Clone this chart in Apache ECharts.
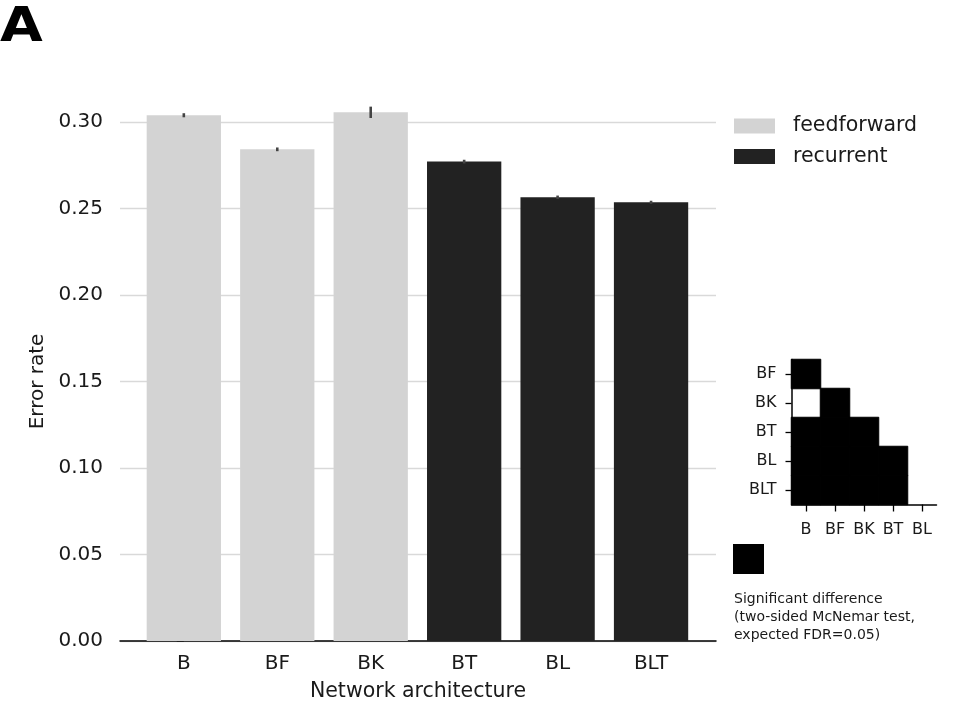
<!DOCTYPE html>
<html>
<head>
<meta charset="utf-8">
<script src="https://cdn.jsdelivr.net/npm/echarts@6/dist/echarts.min.js"></script>
<style>
  html, body { margin: 0; padding: 0; background: #fff; }
  #chart { width: 961px; height: 721px; }
</style>
</head>
<body>
<div id="chart"></div>
<script>
// bar chart data
var architectures = ["B", "BF", "BK", "BT", "BL", "BLT"];
var feedforwardIdx = [0, 1, 2];
var recurrentIdx = [3, 4, 5];
var errorRate = [0.3039, 0.2842, 0.3056, 0.2771, 0.2565, 0.2536];
var errorBar = [0.0006, 0.0005, 0.0027, 0.0005, 0.0004, 0.0003];

// significance matrix (lower triangle, 1 = significant)
var hmCols = ["B", "BF", "BK", "BT", "BL"];
var hmRows = ["BF", "BK", "BT", "BL", "BLT"];
var significant = [
  [1],
  [0, 1],
  [1, 1, 1],
  [1, 1, 1, 1],
  [1, 1, 1, 1, 0]
];

var FONT = "DejaVu Sans";
var TXT = "#1a1a1a";
var chart = echarts.init(document.getElementById("chart"));

var ffData = feedforwardIdx.map(function (i) { return [i, errorRate[i]]; });
var rcData = recurrentIdx.map(function (i) { return [i, errorRate[i]]; });
var errData = architectures.map(function (n, i) { return [i, errorRate[i] - errorBar[i], errorRate[i] + errorBar[i]]; });

var hmData = [];
significant.forEach(function (row, r) {
  row.forEach(function (v, c) {
    if (v) hmData.push([c, r, 1]);
  });
});

var option = {
  animation: false,
  backgroundColor: "#fff",
  textStyle: { fontFamily: FONT },
  legend: {
    orient: "vertical",
    left: 734,
    top: 115.5,
    padding: 0,
    itemWidth: 41,
    itemHeight: 15,
    itemGap: 9.5,
    icon: "rect",
    textStyle: { fontSize: 20.5, lineHeight: 20, color: TXT, fontFamily: FONT, padding: [0, 0, 0, 13] },
    data: ["feedforward", "recurrent"]
  },
  grid: [
    { left: 120, top: 122, width: 596, height: 519 },
    { left: 791.5, top: 359.5, width: 145, height: 145 }
  ],
  xAxis: [
    {
      type: "value",
      gridIndex: 0,
      min: -0.683,
      max: 5.695,
      name: "Network architecture",
      nameLocation: "middle",
      nameGap: 40.5,
      nameTextStyle: { fontSize: 20.5, color: TXT, fontFamily: FONT },
      axisLine: { show: true, lineStyle: { color: "#000", width: 1.5 } },
      axisTick: { show: false },
      splitLine: { show: false },
      axisLabel: {
        customValues: [0, 1, 2, 3, 4, 5],
        formatter: function (v) { return architectures[Math.round(v)]; },
        fontSize: 20,
        color: TXT,
        margin: 13,
        fontFamily: FONT
      }
    },
    {
      type: "category",
      gridIndex: 1,
      data: hmCols,
      axisLine: { show: true, lineStyle: { color: "#000", width: 1.5 } },
      axisTick: { show: true, alignWithLabel: true, length: 7, lineStyle: { color: "#000", width: 1.3 } },
      splitLine: { show: false },
      axisLabel: { fontSize: 16, color: TXT, margin: 17, fontFamily: FONT }
    }
  ],
  yAxis: [
    {
      type: "value",
      gridIndex: 0,
      min: 0,
      max: 0.3,
      interval: 0.05,
      name: "Error rate",
      nameLocation: "middle",
      nameGap: 70,
      nameTextStyle: { fontSize: 20, color: TXT, fontFamily: FONT },
      axisLine: { show: false },
      axisTick: { show: true, length: 7, lineStyle: { color: TXT, width: 1.5 } },
      splitLine: { show: true, lineStyle: { color: "#d9d9d9", width: 1.3 } },
      axisLabel: {
        formatter: function (v) { return v.toFixed(2); },
        fontSize: 20,
        color: TXT,
        margin: 17,
        fontFamily: FONT
      }
    },
    {
      type: "category",
      gridIndex: 1,
      data: hmRows,
      inverse: true,
      axisLine: { show: true, lineStyle: { color: "#000", width: 1.5 } },
      axisTick: { show: true, alignWithLabel: true, length: 6, lineStyle: { color: "#000", width: 1.3 } },
      splitLine: { show: false },
      axisLabel: { fontSize: 16, color: TXT, margin: 15, fontFamily: FONT }
    }
  ],
  series: [
    {
      name: "feedforward",
      type: "bar",
      xAxisIndex: 0,
      yAxisIndex: 0,
      data: ffData,
      barWidth: 74.3,
      barGap: "-100%",
      clip: false,
      itemStyle: { color: "#d3d3d3" }
    },
    {
      name: "recurrent",
      type: "bar",
      xAxisIndex: 0,
      yAxisIndex: 0,
      data: rcData,
      barWidth: 74.3,
      barGap: "-100%",
      clip: false,
      itemStyle: { color: "#222222" }
    },
    {
      name: "err",
      type: "custom",
      xAxisIndex: 0,
      yAxisIndex: 0,
      data: errData,
      clip: false,
      z: 5,
      renderItem: function (params, api) {
        var lo = api.coord([api.value(0), api.value(1)]);
        var hi = api.coord([api.value(0), api.value(2)]);
        return {
          type: "line",
          shape: { x1: lo[0], y1: lo[1] + 1, x2: hi[0], y2: hi[1] - 1 },
          style: { stroke: "#444", lineWidth: 2.6 }
        };
      }
    },
    {
      name: "significance",
      type: "heatmap",
      xAxisIndex: 1,
      yAxisIndex: 1,
      data: hmData,
      itemStyle: { color: "#000", borderColor: "#000", borderWidth: 1 },
      emphasis: { disabled: true }
    }
  ],
  graphic: [
    {
      type: "text",
      x: 0,
      y: 5,
      scaleX: 1.15,
      style: { text: "A", font: "bold 48px 'DejaVu Sans'", fill: "#000", textVerticalAlign: "top" }
    },
    {
      type: "rect",
      shape: { x: 733, y: 544, width: 31, height: 30 },
      style: { fill: "#000" }
    },
    {
      type: "text",
      left: 734,
      top: 590,
      style: {
        text: "Significant difference\n(two-sided McNemar test,\nexpected FDR=0.05)",
        font: "14px 'DejaVu Sans'",
        lineHeight: 18,
        fill: TXT
      }
    }
  ]
};

chart.setOption(option);
</script>
</body>
</html>
